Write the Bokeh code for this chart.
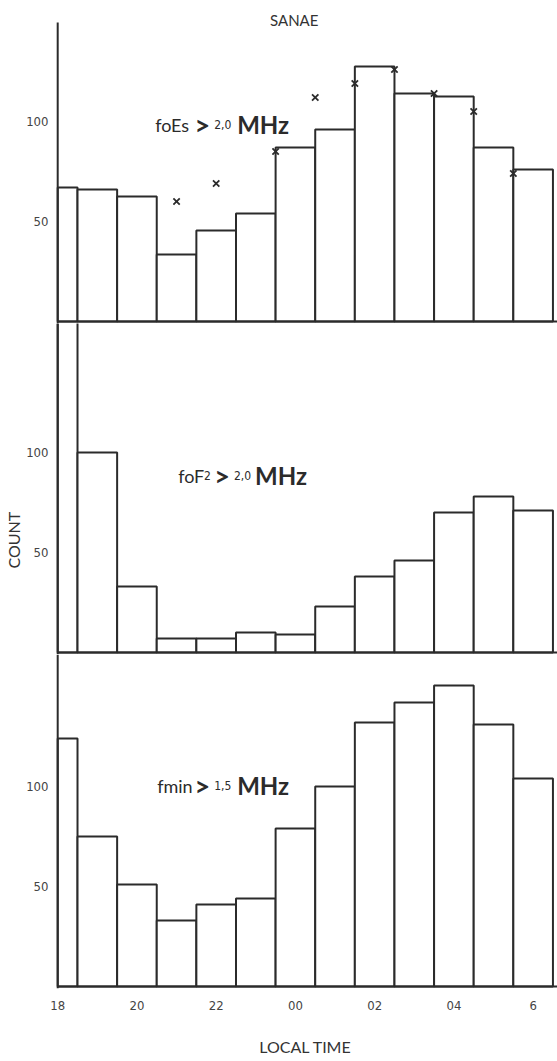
import numpy as np
from bokeh.plotting import figure
from bokeh.layouts import column
from bokeh.models import Label, FixedTicker, Range1d, Title
from bokeh.embed import file_html
from bokeh.resources import INLINE

# ---------------- data ----------------
hours = [18, 19, 20, 21, 22, 23, 24, 25, 26, 27, 28, 29, 30]
foes_counts = [67, 66, 62.5, 33.5, 45.5, 54, 87, 96, 127.5, 114, 112.5, 87, 76]
foes_mark_hours = [21, 22, 23.5, 24.5, 25.5, 26.5, 27.5, 28.5, 29.5]
foes_mark_counts = [60, 69, 85, 112, 119, 126, 114, 105, 74]
fof2_counts = [170, 100, 33, 7, 7, 10, 9, 23, 38, 46, 70, 78, 71]
fmin_counts = [124, 75, 51, 33, 41, 44, 79, 100, 132, 142, 150.5, 131, 104]
x_tick_values = [18, 20, 22, 24, 26, 28, 30]
x_tick_labels = ["18", "20", "22", "00", "02", "04", "6"]
y_tick_values = [50, 100]

INK = "#2b2b2b"
LETTER_FONT = "Lato"
DIGIT_FONT = "'DejaVu Sans Condensed', 'Roboto'"
X0, X1 = 17.894, 30.615
AXIS_X = 18.0


def panel(counts, height, ytop, bottom_border=0):
    p = figure(width=557, height=height, output_backend="svg", toolbar_location=None,
               x_range=Range1d(X0, X1), y_range=Range1d(-1, ytop),
               min_border_left=52, min_border_right=0, min_border_top=0,
               min_border_bottom=bottom_border)
    p.outline_line_color = None
    p.grid.visible = False
    p.background_fill_color = "white"
    p.border_fill_color = "white"
    h = np.array(hours, dtype=float)
    left = np.maximum(h - 0.5, AXIS_X)
    right = h + 0.5
    p.quad(left=left, right=right, bottom=np.zeros_like(h), top=counts,
           fill_color="white", line_color=INK, line_width=2)
    # baseline
    p.segment(x0=[AXIS_X], y0=[0], x1=[X1 + 1], y1=[0], line_color=INK, line_width=2)
    p.yaxis.ticker = FixedTicker(ticks=y_tick_values)
    p.yaxis.axis_line_color = None
    p.yaxis.major_tick_line_color = None
    p.yaxis.minor_tick_line_color = None
    p.yaxis.major_tick_out = 0
    p.yaxis.major_label_standoff = 5
    p.yaxis.major_label_text_font = DIGIT_FONT
    p.yaxis.major_label_text_font_size = "13px"
    p.yaxis.major_label_text_color = "#444444"
    p.yaxis.major_label_orientation = "horizontal"
    return p


def add_label(p, text, x, y, font, size, bold=False, align="left"):
    p.add_layout(Label(x=x, y=y, text=text, text_font=font, text_font_size=f"{size}px",
                       text_font_style="bold" if bold else "normal",
                       text_color=INK, text_align=align, text_baseline="alphabetic"))


# ---------- top panel: foEs ----------
p1 = panel(foes_counts, 323, 160.5)
p1.segment(x0=[AXIS_X], y0=[-1], x1=[AXIS_X], y1=[149.5], line_color=INK, line_width=2)
p1.scatter(foes_mark_hours, foes_mark_counts, marker="x", size=9, line_color=INK, line_width=1.8)
p1.xaxis.visible = False
p1.add_layout(Label(x=23.97, y=151, text="SANAE", text_font=LETTER_FONT, text_font_size="15px",
                    text_color="#333333", text_align="center", text_baseline="middle"))
add_label(p1, "foEs", 20.46, 98.5, LETTER_FONT, 18)
add_label(p1, ">", 21.45, 98.5, LETTER_FONT, 27, bold=True)
add_label(p1, "2,0", 21.95, 98.5, DIGIT_FONT, 12)
add_label(p1, "MHz", 22.53, 98.5, LETTER_FONT, 24, bold=True)

# ---------- middle panel: foF2 ----------
p2 = panel(fof2_counts, 331, 164.5)
p2.segment(x0=[AXIS_X], y0=[-1], x1=[AXIS_X], y1=[164.5], line_color=INK, line_width=2)
p2.xaxis.visible = False
add_label(p2, "foF", 21.04, 88.5, LETTER_FONT, 18)
add_label(p2, "2", 21.69, 88.5, DIGIT_FONT, 12)
add_label(p2, ">", 21.95, 88.5, LETTER_FONT, 27, bold=True)
add_label(p2, "2,0", 22.45, 88.5, DIGIT_FONT, 12)
add_label(p2, "MHz", 22.98, 88.5, LETTER_FONT, 24, bold=True)
p2.add_layout(Title(text="COUNT", align="left", offset=86, standoff=2,
                    text_font=LETTER_FONT, text_font_size="16px", text_font_style="normal",
                    text_color="#333333"), "left")

# ---------- bottom panel: fmin ----------
p3 = panel(fmin_counts, 407, 166, bottom_border=73)
p3.segment(x0=[AXIS_X], y0=[-1], x1=[AXIS_X], y1=[166], line_color=INK, line_width=2)
add_label(p3, "fmin", 20.51, 100.5, LETTER_FONT, 18)
add_label(p3, ">", 21.45, 100.5, LETTER_FONT, 27, bold=True)
add_label(p3, "1,5", 21.95, 100.5, DIGIT_FONT, 12)
add_label(p3, "MHz", 22.53, 100.5, LETTER_FONT, 24, bold=True)
p3.xaxis.ticker = FixedTicker(ticks=x_tick_values)
p3.xaxis.major_label_overrides = {v: t for v, t in zip(x_tick_values, x_tick_labels)}
p3.xaxis.axis_line_color = None
p3.xaxis.major_tick_line_color = None
p3.xaxis.minor_tick_line_color = None
p3.xaxis.major_tick_out = 0
p3.xaxis.major_label_standoff = 12
p3.xaxis.major_label_text_font = DIGIT_FONT
p3.xaxis.major_label_text_font_size = "13px"
p3.xaxis.major_label_text_color = "#444444"
p3.xaxis.axis_label = "LOCAL TIME"
p3.xaxis.axis_label_text_font = LETTER_FONT
p3.xaxis.axis_label_text_font_size = "16px"
p3.xaxis.axis_label_text_font_style = "normal"
p3.xaxis.axis_label_text_color = "#333333"
p3.xaxis.axis_label_standoff = 24

layout = column(p1, p2, p3, spacing=0)
open("out.html", "w").write(file_html(layout, INLINE))
